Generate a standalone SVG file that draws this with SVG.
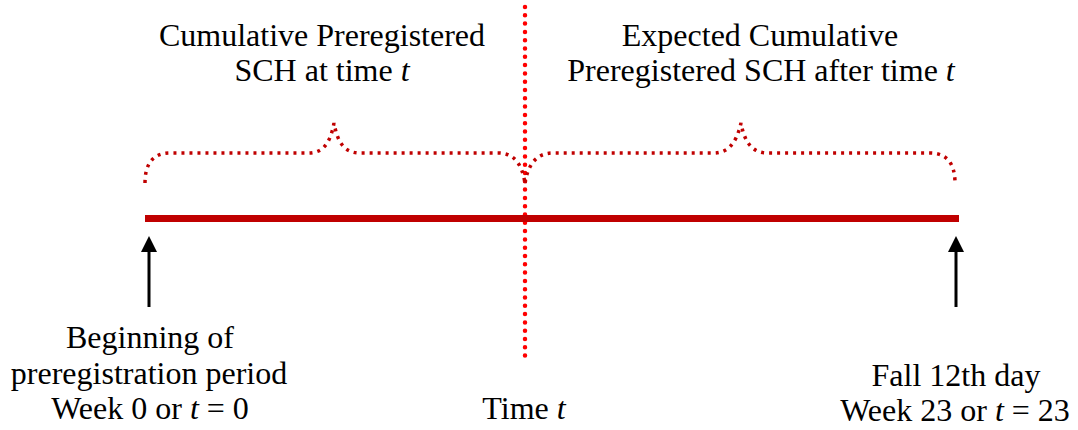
<svg xmlns="http://www.w3.org/2000/svg" width="1078" height="430" viewBox="0 0 1078 430">
<style>
text{font-family:"Liberation Serif","Times New Roman",serif;font-size:32px;fill:#000;text-anchor:middle}
.it{font-style:italic}
.brace{fill:none;stroke:#C00000;stroke-width:3.5;stroke-dasharray:3 5}
.arrow{stroke:#000;stroke-width:3;fill:none}
</style>
<rect width="1078" height="430" fill="#fff"/>
<g id="connectors">
<line x1="525" y1="7" x2="525" y2="356" stroke="#FF0000" stroke-width="4.5" stroke-linecap="round" stroke-dasharray="0 8.3"/>
<path class="brace" d="M145,183 C145,165 152,153 170,153 L308,153 C322,153 330,145 334,123 C338,145 346,153 360,153 L498,153 C515,153 522,165 525,183"/>
<path class="brace" d="M525,183 C528,165 536,153 553,153 L713,153 C727,153 736,145 741,123 C745,145 754,153 768,153 L930,153 C948,153 955,165 955,183"/>
<line class="arrow" x1="149" y1="307" x2="149" y2="250"/>
<polygon points="149,236 141,252 157,252" fill="#000"/>
<line class="arrow" x1="956" y1="307" x2="956" y2="250"/>
<polygon points="956,236 948,252 964,252" fill="#000"/>
</g>
<g id="timeline"><rect x="145" y="215" width="814" height="7" fill="#C00000"/></g>
<g id="label-left-top">
<text x="322" y="46">Cumulative Preregistered</text>
<text x="322" y="81">SCH at time <tspan class="it">t</tspan></text>
</g>
<g id="label-right-top">
<text x="760" y="46">Expected Cumulative</text>
<text x="761" y="81">Preregistered SCH after time <tspan class="it">t</tspan></text>
</g>
<g id="label-start">
<text x="150" y="348">Beginning of</text>
<text x="149" y="384">preregistration period</text>
<text x="150" y="419">Week 0 or <tspan class="it">t</tspan> = 0</text>
</g>
<g id="label-time">
<text x="524" y="419">Time <tspan class="it">t</tspan></text>
</g>
<g id="label-end">
<text x="956" y="386">Fall 12th day</text>
<text x="955" y="421">Week 23 or <tspan class="it">t</tspan> = 23</text>
</g>
</svg>
